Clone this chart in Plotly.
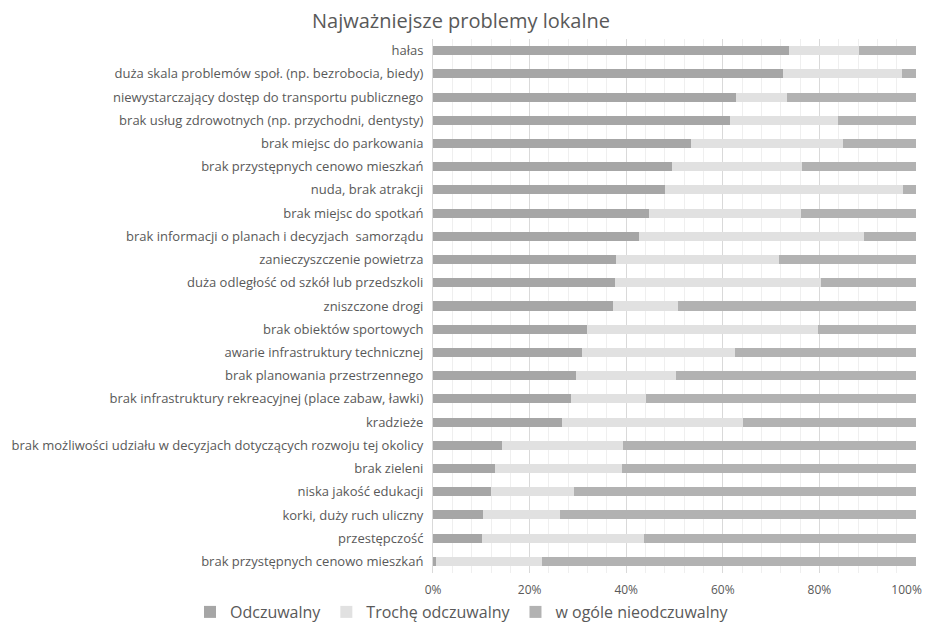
import plotly.graph_objects as go

categories = [
    "hałas",
    "duża skala problemów społ. (np. bezrobocia, biedy)",
    "niewystarczający dostęp do transportu publicznego",
    "brak usług zdrowotnych (np. przychodni, dentysty)",
    "brak miejsc do parkowania",
    "brak przystępnych cenowo mieszkań",
    "nuda, brak atrakcji",
    "brak miejsc do spotkań",
    "brak informacji o planach i decyzjach  samorządu",
    "zanieczyszczenie powietrza",
    "duża odległość od szkół lub przedszkoli",
    "zniszczone drogi",
    "brak obiektów sportowych",
    "awarie infrastruktury technicznej",
    "brak planowania przestrzennego",
    "brak infrastruktury rekreacyjnej (place zabaw, ławki)",
    "kradzieże",
    "brak możliwości udziału w decyzjach dotyczących rozwoju tej okolicy",
    "brak zieleni",
    "niska jakość edukacji",
    "korki, duży ruch uliczny",
    "przestępczość",
    "brak przystępnych cenowo mieszkań",
]

odczuwalny = [73.7, 72.5, 62.7, 61.4, 53.4, 49.5, 48.1, 44.8, 42.7, 37.8, 37.7, 37.2,
              31.9, 30.9, 29.6, 28.5, 26.7, 14.2, 12.8, 11.9, 10.3, 10.2, 0.7]
troche = [14.5, 24.6, 10.5, 22.4, 31.5, 27.0, 49.2, 31.4, 46.5, 33.8, 42.6, 13.6,
          47.8, 31.6, 20.7, 15.5, 37.5, 25.1, 26.4, 17.2, 15.9, 33.4, 21.8]
w_ogole = [round(100 - a - b, 1) for a, b in zip(odczuwalny, troche)]

series_names = ["Odczuwalny", "Trochę odczuwalny", "w ogóle nieodczuwalny"]
series_colors = ["#a6a6a6", "#e1e1e1", "#b2b2b2"]

x_ticks = [0, 20, 40, 60, 80, 100]
# the last label is nudged left (trailing no-break spaces) so it stays inside the page
x_tick_labels = ["0%", "20%", "40%", "60%", "80%", "100%" + "\u00a0" * 6]

ypos = list(range(len(categories)))
FONT = "Open Sans"
TXT = "#595959"

fig = go.Figure()
for name, vals, col in zip(series_names, [odczuwalny, troche, w_ogole], series_colors):
    fig.add_trace(go.Bar(
        x=vals, y=ypos, orientation="h", name=name,
        marker=dict(color=col, line=dict(width=0)),
    ))

W, H = 924, 614
L, R, T, B = 425, 16, 31, 49
PW, PH = W - L - R, H - T - B

fig.update_layout(
    barmode="stack",
    bargap=0.61,
    width=W, height=H,
    margin=dict(l=L, r=R, t=T, b=B, autoexpand=False),
    paper_bgcolor="white", plot_bgcolor="white",
    font=dict(family=FONT, size=13, color=TXT),
    title=dict(text="Najważniejsze problemy lokalne", x=453 / W, xanchor="center",
               y=1 - 13 / H, yanchor="middle",
               font=dict(family=FONT, size=20, color=TXT)),
    showlegend=True,
    legend=dict(orientation="h",
                x=(182 - L) / PW, xanchor="left",
                y=((H - B) - 604) / PH, yanchor="middle",
                font=dict(family=FONT, size=16, color=TXT),
                traceorder="normal", bgcolor="rgba(0,0,0,0)"),
)
fig.update_xaxes(
    range=[-0.01, 100.01], tickvals=x_ticks, ticktext=x_tick_labels,
    showgrid=True, gridcolor="#d9d9d9", gridwidth=1,
    minor=dict(dtick=4, showgrid=True, gridcolor="#efefef", gridwidth=1),
    zeroline=False, showline=False,
    tickfont=dict(family=FONT, size=12, color=TXT),
    ticks="", automargin=False, ticklabelstandoff=8,
    ticklabeloverflow="allow",
)
fig.update_yaxes(
    tickvals=ypos, ticktext=categories, range=[len(categories) - 0.5, -0.5],
    showgrid=False, zeroline=False, showline=True, linecolor="#d9d9d9",
    ticks="", automargin=False, ticklabelstandoff=6,
    tickfont=dict(family=FONT, size=13, color=TXT),
)

fig.write_html("out.html")
